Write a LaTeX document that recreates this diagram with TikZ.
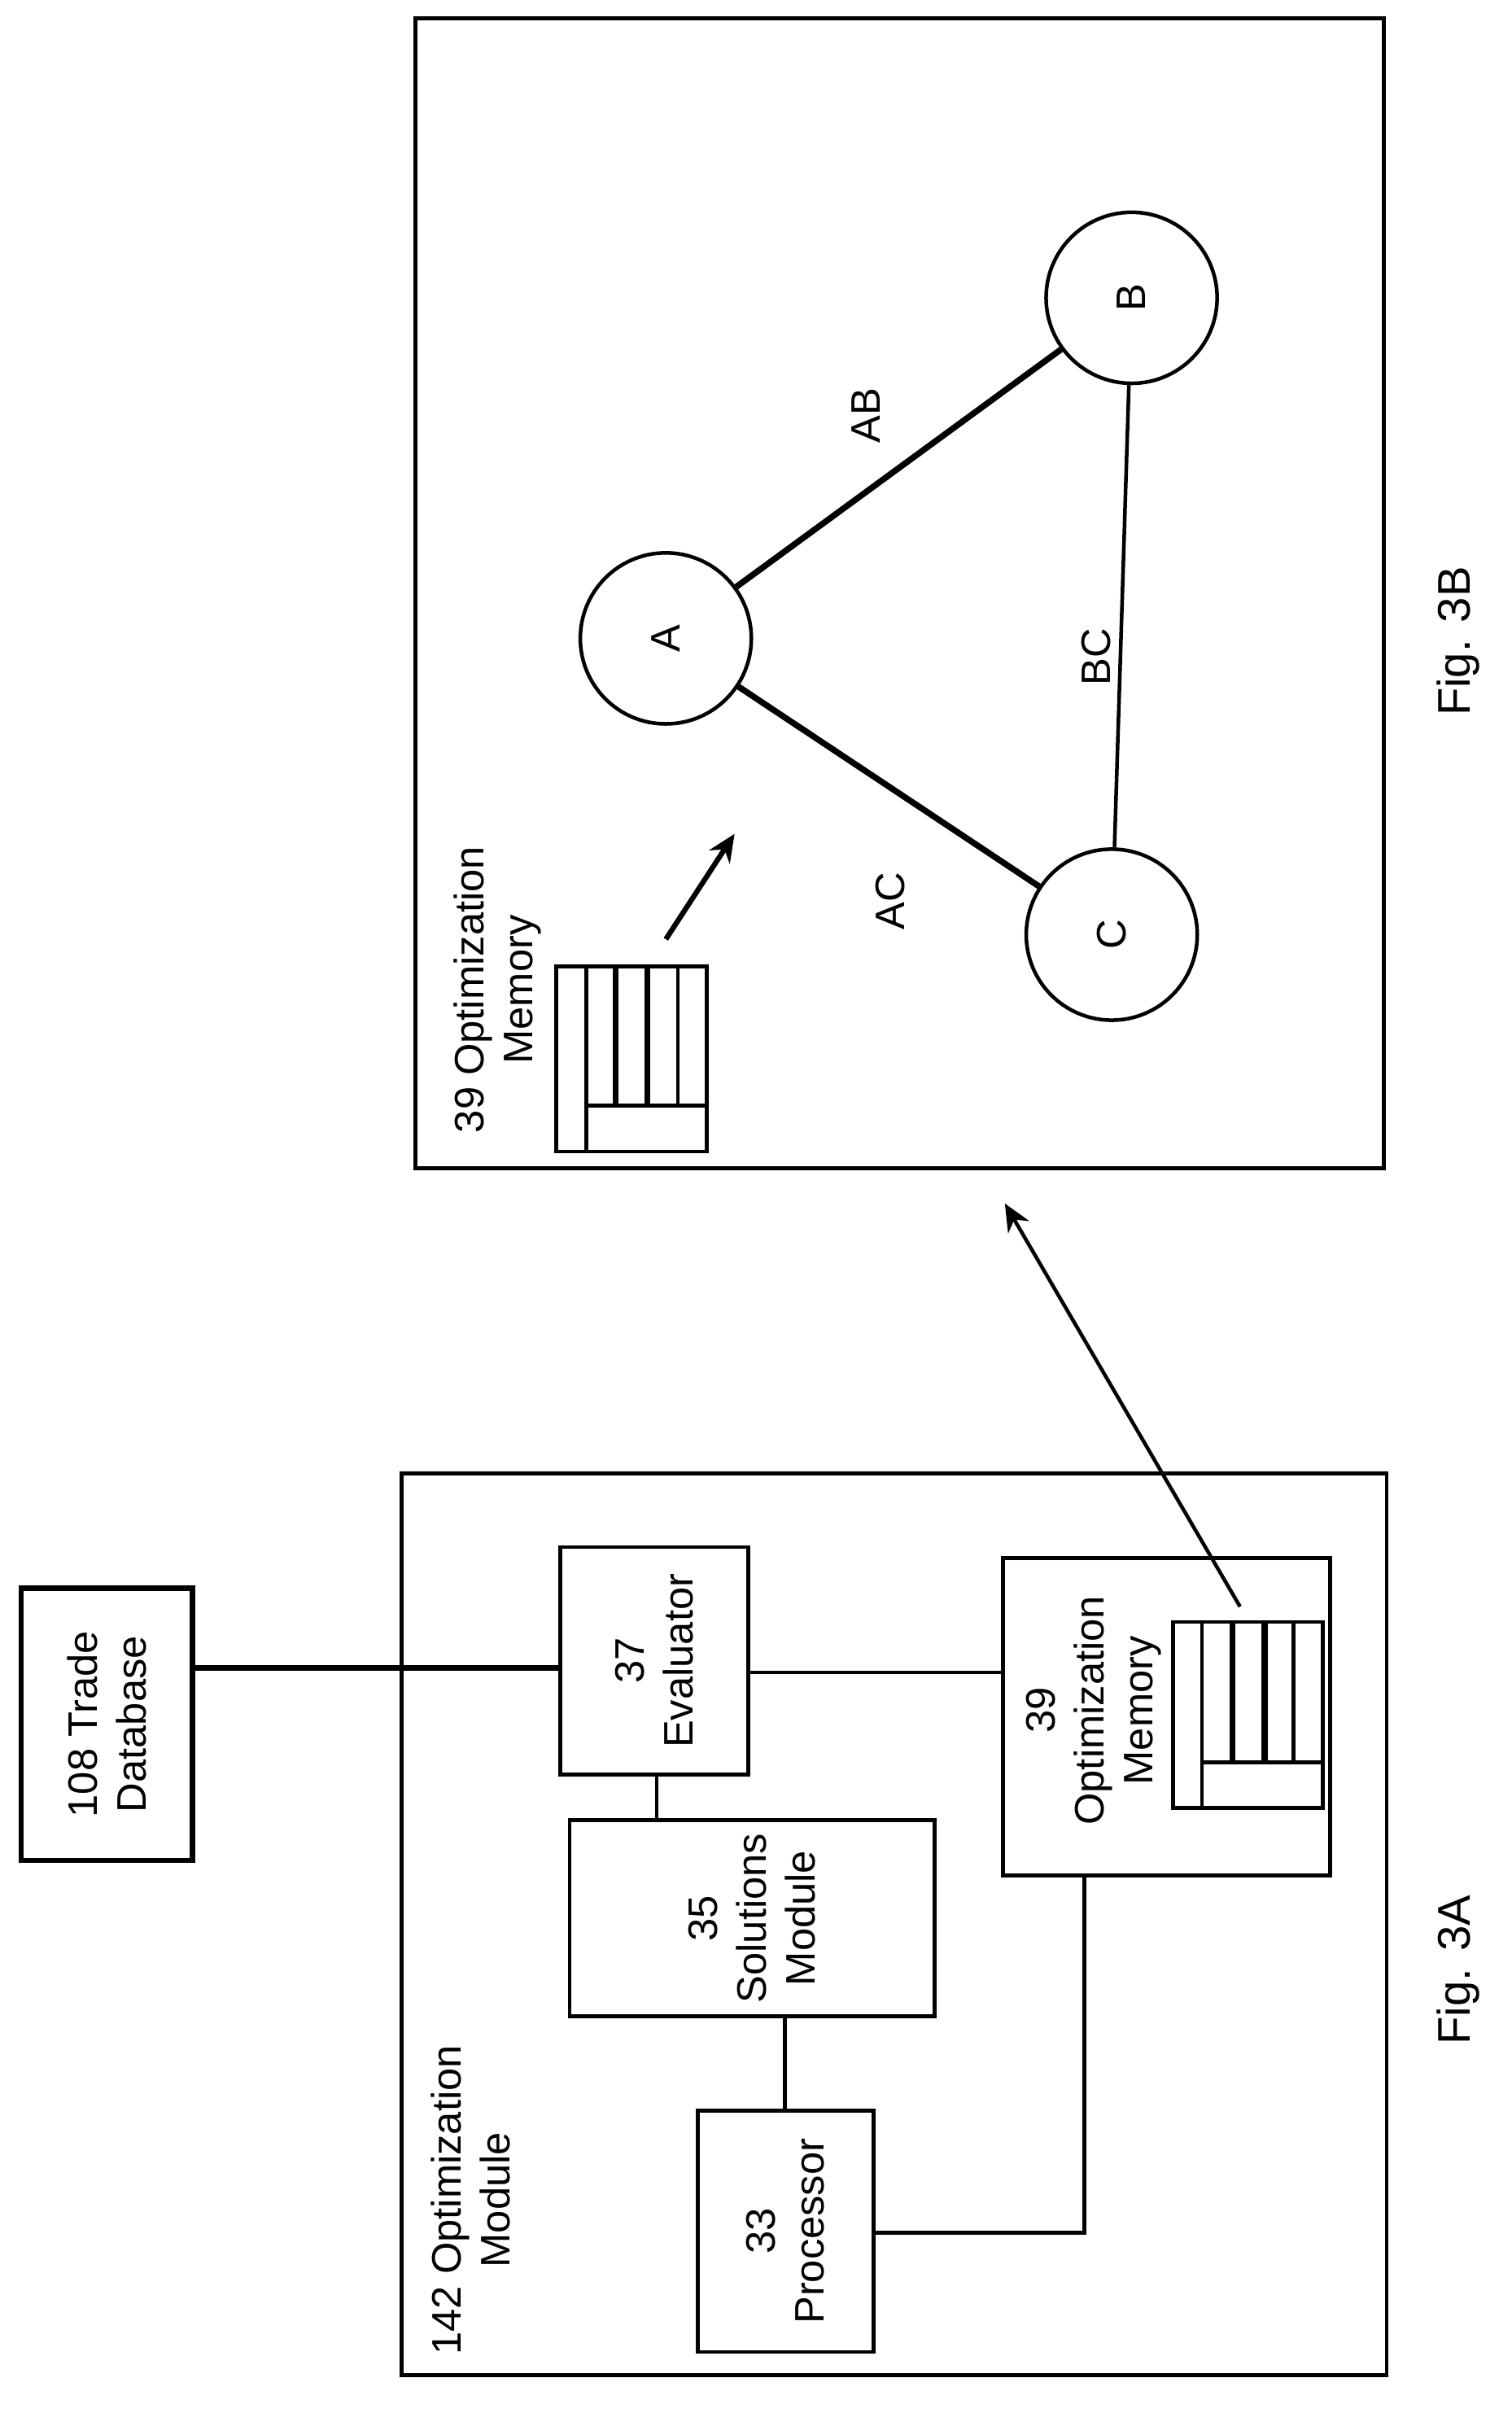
\documentclass[tikz,border=0pt]{standalone}
\usepackage{fontspec}
\setmainfont{Liberation Sans}
\usetikzlibrary{arrows.meta,shapes.geometric}

\tikzset{
  box/.style={draw,line width=2.6pt},
  lbl/.style={rotate=90,align=center,inner sep=0pt,font=\fontsize{27}{32}\selectfont},
  vert/.style={ellipse,draw,line width=2.4pt,minimum width=112pt,minimum height=112pt},
  link/.style={line width=3pt},
  thin/.style={line width=2.4pt},
}

\begin{document}
\begin{tikzpicture}[x=1pt,y=-1pt]
\useasboundingbox (0,0) rectangle (990,1580);
% Fig. 3B
\draw[box] (272,12) rectangle (906,765);
\node[vert] (A) at (436,418) {};
\node[vert] (B) at (741,195) {};
\node[vert] (C) at (728,612) {};
\node[lbl] at (A) {A};
\node[lbl] at (B) {B};
\node[lbl] at (C) {C};
\draw[line width=4pt] (A) -- (B);
\draw[thin] (B) -- (C);
\draw[line width=4pt] (A) -- (C);
\node[lbl] (ab) at (567,272) {AB};
\node[lbl] (bc) at (718,430) {BC};
\node[lbl] (ac) at (583,590) {AC};
\node[lbl,anchor=north west] (mem3b) at (297,742) {39 Optimization\\Memory};
% memory icon 3B
\draw[box] (364,633) rectangle (463,754);
\draw[thin] (384,633) -- (384,754) (384,724) -- (463,724)
  (444,633) -- (444,724);
\draw[line width=4pt] (403,633) -- (403,724) (424,633) -- (424,724);
\coordinate (icon) at (436,615);
\coordinate (tip) at (481,546);
\draw[line width=3.4pt,-{Stealth[length=18pt,width=16pt]}] (icon) -- (tip);
\node[lbl,font=\fontsize{30}{34}\selectfont] (fig3b) at (955,420) {Fig. 3B};

% Fig. 3A
\draw[box] (263,965) rectangle (908,1555);
\node[lbl,anchor=north west] (mod) at (282,1542) {142 Optimization\\Module};
\node[box,line width=3.4pt,minimum width=112pt,minimum height=178pt] (db) at (70,1129) {};
\node[lbl] at (db) {108 Trade\\Database};
\node[box,minimum width=123pt,minimum height=149pt] (eval) at (428.5,1087.5) {};
\node[lbl] at (eval) {37\\Evaluator};
\node[box,minimum width=239pt,minimum height=128pt] (sol) at (492.5,1256) {};
\node[lbl] at (sol) {35\\Solutions\\Module};
\node[box,minimum width=115pt,minimum height=158pt] (proc) at (514.5,1461) {};
\node[lbl] at (proc) {33\\Processor};
\node[box,minimum width=214pt,minimum height=208pt] (mem) at (764,1124) {};
\node[lbl] at (716,1120) {39\\Optimization\\Memory};
% memory icon 3A
\draw[box] (768,1062) rectangle (866,1184);
\draw[thin] (787,1062) -- (787,1184) (787,1154) -- (866,1154)
  (847,1062) -- (847,1154);
\draw[line width=4pt] (807,1062) -- (807,1154) (828,1062) -- (828,1154);
\coordinate (iconA) at (812,1052);
\coordinate (tipA) at (658,788);
\draw[thin,-{Stealth[length=18pt,width=16pt]}] (iconA) -- (tipA);
% connectors
\draw[link,line width=3.6pt] (db.east |- 0,1092) -- (eval.west |- 0,1092);
\draw[thin] (eval.south -| 430,0) -- (sol.north -| 430,0);
\draw[thin] (sol.south -| 514,0) -- (proc.north -| 514,0);
\draw[thin] (eval.east |- 0,1095) -- (mem.west |- 0,1095);
\draw[thin] (proc.east |- 0,1462) -- (710,1462) -- (mem.south -| 710,0);
\node[lbl,font=\fontsize{30}{34}\selectfont] (fig3a) at (955,1290) {Fig. 3A};
\end{tikzpicture}
\end{document}
